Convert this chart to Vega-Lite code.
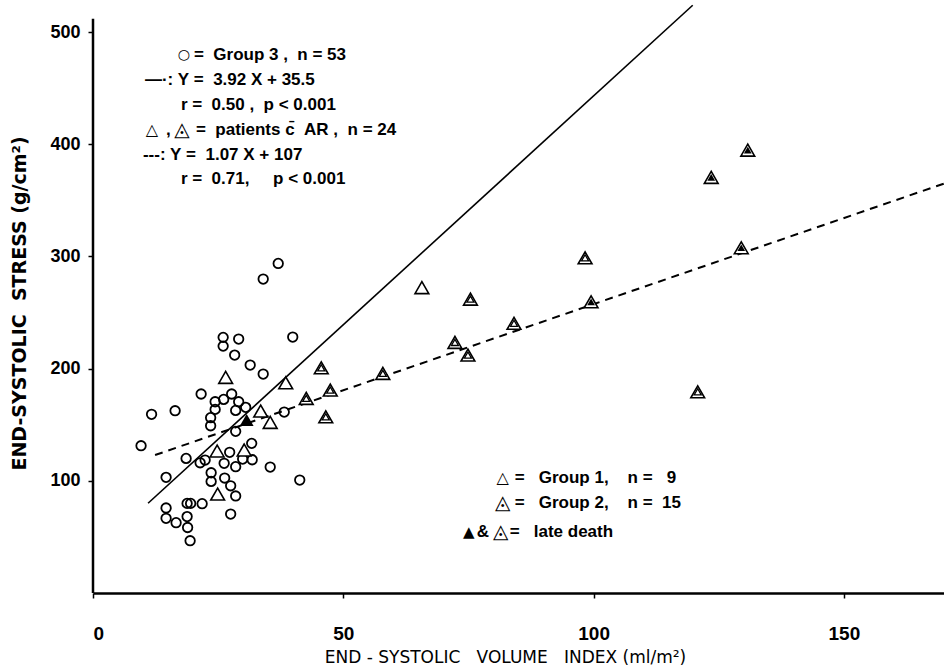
{
  "$schema": "https://vega.github.io/schema/vega-lite/v6.json",
  "width": 851,
  "height": 590,
  "autosize": {"type": "none"},
  "padding": {"left": 93, "top": 3, "right": 0, "bottom": 75},
  "background": "white",
  "config": {"view": {"stroke": null}},
  "datasets": {
    "pts": [
      {"kind": "c", "x": 37.0, "y": 293.8}, {"kind": "c", "x": 34.0, "y": 279.9}, {"kind": "c", "x": 26.0, "y": 227.9},
      {"kind": "c", "x": 29.1, "y": 226.4}, {"kind": "c", "x": 26.0, "y": 220.1}, {"kind": "c", "x": 39.9, "y": 228.2},
      {"kind": "c", "x": 28.3, "y": 212.1}, {"kind": "c", "x": 31.4, "y": 203.2}, {"kind": "c", "x": 34.0, "y": 195.2},
      {"kind": "c", "x": 21.6, "y": 177.4}, {"kind": "c", "x": 11.7, "y": 159.3}, {"kind": "c", "x": 16.4, "y": 162.5},
      {"kind": "c", "x": 24.4, "y": 170.5}, {"kind": "c", "x": 26.1, "y": 172.6}, {"kind": "c", "x": 27.7, "y": 177.4},
      {"kind": "c", "x": 29.1, "y": 170.5}, {"kind": "c", "x": 24.4, "y": 163.7}, {"kind": "c", "x": 28.5, "y": 162.8},
      {"kind": "c", "x": 30.5, "y": 165.5}, {"kind": "c", "x": 23.5, "y": 156.3}, {"kind": "c", "x": 23.5, "y": 149.1},
      {"kind": "c", "x": 38.2, "y": 161.3}, {"kind": "c", "x": 28.5, "y": 144.1}, {"kind": "c", "x": 9.6, "y": 131.3},
      {"kind": "c", "x": 31.7, "y": 133.4}, {"kind": "c", "x": 27.3, "y": 125.4}, {"kind": "c", "x": 18.6, "y": 120.0},
      {"kind": "c", "x": 21.4, "y": 116.1}, {"kind": "c", "x": 22.4, "y": 118.5}, {"kind": "c", "x": 26.2, "y": 115.6},
      {"kind": "c", "x": 29.9, "y": 119.4}, {"kind": "c", "x": 31.8, "y": 118.8}, {"kind": "c", "x": 28.5, "y": 112.6},
      {"kind": "c", "x": 35.4, "y": 112.3}, {"kind": "c", "x": 14.6, "y": 103.1}, {"kind": "c", "x": 23.6, "y": 107.2},
      {"kind": "c", "x": 23.6, "y": 99.5}, {"kind": "c", "x": 26.3, "y": 102.5}, {"kind": "c", "x": 27.5, "y": 95.6},
      {"kind": "c", "x": 28.5, "y": 86.5}, {"kind": "c", "x": 41.3, "y": 100.7}, {"kind": "c", "x": 14.6, "y": 75.8},
      {"kind": "c", "x": 18.8, "y": 79.9}, {"kind": "c", "x": 19.5, "y": 79.9}, {"kind": "c", "x": 21.8, "y": 79.6},
      {"kind": "c", "x": 14.6, "y": 66.6}, {"kind": "c", "x": 16.6, "y": 62.7}, {"kind": "c", "x": 18.8, "y": 68.1},
      {"kind": "c", "x": 27.5, "y": 70.4}, {"kind": "c", "x": 18.9, "y": 58.4}, {"kind": "c", "x": 19.4, "y": 46.6},
      {"kind": "g1", "x": 26.5, "y": 192.2}, {"kind": "g1", "x": 38.5, "y": 187.4}, {"kind": "g1", "x": 33.5, "y": 162.2},
      {"kind": "g1", "x": 35.4, "y": 152.1}, {"kind": "g1", "x": 24.8, "y": 126.6}, {"kind": "g1", "x": 30.2, "y": 127.5},
      {"kind": "g1", "x": 24.9, "y": 88.2}, {"kind": "g1", "x": 65.7, "y": 272.2},
      {"kind": "g1d", "x": 30.7, "y": 154.2},
      {"kind": "g2", "x": 45.6, "y": 200.8}, {"kind": "g2", "x": 42.6, "y": 173.5}, {"kind": "g2", "x": 47.4, "y": 180.9},
      {"kind": "g2", "x": 46.5, "y": 157.1}, {"kind": "g2", "x": 57.9, "y": 195.8}, {"kind": "g2", "x": 75.4, "y": 262.0},
      {"kind": "g2", "x": 72.3, "y": 223.4}, {"kind": "g2", "x": 74.9, "y": 212.1}, {"kind": "g2", "x": 84.1, "y": 240.4},
      {"kind": "g2", "x": 98.3, "y": 298.8}, {"kind": "g2", "x": 120.8, "y": 179.4},
      {"kind": "g2d", "x": 99.5, "y": 259.6}, {"kind": "g2d", "x": 123.5, "y": 370.5}, {"kind": "g2d", "x": 129.5, "y": 307.8},
      {"kind": "g2d", "x": 130.8, "y": 394.8}
    ],
    "labels": [
      {"tx": 20.16, "ty": 479.5, "label": "=\u00a0\u00a0Group 3 ,\u00a0\u00a0n = 53"},
      {"tx": 10.38, "ty": 457.2, "label": "—·: Y\u00a0=\u00a0\u00a03.92 X + 35.5"},
      {"tx": 17.56, "ty": 434.9, "label": "r\u00a0=\u00a0\u00a00.50 ,\u00a0\u00a0p < 0.001"},
      {"tx": 14.57, "ty": 412.7, "label": ","},
      {"tx": 20.56, "ty": 412.7, "label": "=\u00a0\u00a0patients c̄\u00a0\u00a0AR ,\u00a0\u00a0n = 24"},
      {"tx": 9.98, "ty": 390.4, "label": "---: Y\u00a0=\u00a0\u00a01.07 X + 107"},
      {"tx": 17.56, "ty": 369.0, "label": "r\u00a0=\u00a0\u00a00.71,\u00a0\u00a0\u00a0\u00a0\u00a0p < 0.001"},
      {"tx": 84.23, "ty": 102.5, "label": "=\u00a0\u00a0\u00a0Group 1,\u00a0\u00a0\u00a0\u00a0n =\u00a0\u00a0\u00a09"},
      {"tx": 84.23, "ty": 80.2, "label": "=\u00a0\u00a0\u00a0Group 2,\u00a0\u00a0\u00a0\u00a0n =\u00a0\u00a015"},
      {"tx": 76.65, "ty": 54.4, "label": "&"},
      {"tx": 83.23, "ty": 54.4, "label": "=\u00a0\u00a0\u00a0late death"}
    ],
    "syms": [
      {"tx": 18.16, "ty": 479.5, "sym": "○", "sz": 14},
      {"tx": 11.78, "ty": 412.7, "sym": "△", "sz": 16},
      {"tx": 17.76, "ty": 412.7, "sym": "◬", "sz": 20},
      {"tx": 81.84, "ty": 102.5, "sym": "△", "sz": 16},
      {"tx": 81.84, "ty": 80.2, "sym": "◬", "sz": 20},
      {"tx": 75.05, "ty": 54.4, "sym": "▲", "sz": 15},
      {"tx": 81.44, "ty": 54.4, "sym": "◬", "sz": 20}
    ]
  },
  "layer": [
    {
      "data": {"values": [{"x": 0, "y": 0, "y2": 512}]},
      "mark": {"type": "rule", "color": "black", "strokeWidth": 2.5},
      "encoding": {
        "x": {"field": "x", "type": "quantitative",
          "scale": {"domain": [0, 170], "nice": false, "zero": false},
          "axis": {"values": [0, 50, 100, 150], "grid": false, "domainColor": "black", "domainWidth": 2.5,
            "tickColor": "black", "tickSize": 5, "tickWidth": 1.5, "labelPadding": 26,
            "labelFont": "Liberation Sans", "labelFontWeight": "bold", "labelFontSize": 19, "labelColor": "black",
            "title": "END - SYSTOLIC\u00a0\u00a0\u00a0VOLUME\u00a0\u00a0\u00a0INDEX (ml/m²)", "titleFont": "DejaVu Sans", "titleFontWeight": "normal",
            "titleFontSize": 17, "titleColor": "black", "titleY": 64, "titleBaseline": "middle", "titleX": 412}},
        "y": {"field": "y", "type": "quantitative",
          "scale": {"domain": [0, 526], "nice": false, "zero": false},
          "axis": {"values": [100, 200, 300, 400, 500], "grid": false, "domain": false,
            "tickColor": "black", "tickSize": 5, "tickWidth": 1.5, "labelPadding": 8,
            "labelFont": "Liberation Sans", "labelFontWeight": "bold", "labelFontSize": 18, "labelColor": "black",
            "title": "END-SYSTOLIC\u00a0\u00a0STRESS\u00a0(g/cm²)", "titleFont": "DejaVu Sans", "titleFontWeight": "bold",
            "titleFontSize": 19, "titleColor": "black", "titleX": -74, "titleY": 300, "titleAngle": -90,
            "titleAlign": "center", "titleBaseline": "middle"}},
        "y2": {"field": "y2"}
      }
    },
    {
      "data": {"values": [{"x": 11, "y": 80}, {"x": 119.8, "y": 524}]},
      "mark": {"type": "line", "color": "black", "strokeWidth": 1.6, "clip": false},
      "encoding": {"x": {"field": "x", "type": "quantitative"}, "y": {"field": "y", "type": "quantitative"}}
    },
    {
      "data": {"values": [{"x": 12.4, "y": 123}, {"x": 170, "y": 365}]},
      "mark": {"type": "line", "color": "black", "strokeWidth": 2, "strokeDash": [8, 6]},
      "encoding": {"x": {"field": "x", "type": "quantitative"}, "y": {"field": "y", "type": "quantitative"}}
    },
    {
      "data": {"name": "pts"},
      "transform": [{"filter": "datum.kind == 'c'"}],
      "mark": {"type": "point", "shape": "circle", "filled": false, "color": "black", "strokeWidth": 1.8, "size": 90, "opacity": 1},
      "encoding": {"x": {"field": "x", "type": "quantitative"}, "y": {"field": "y", "type": "quantitative"}}
    },
    {
      "data": {"name": "pts"},
      "transform": [{"filter": "datum.kind == 'g1' || datum.kind == 'g2' || datum.kind == 'g2d'"}],
      "mark": {"type": "point", "shape": "triangle-up", "filled": true, "fill": "white", "stroke": "black", "strokeWidth": 1.6, "size": 190, "opacity": 1},
      "encoding": {"x": {"field": "x", "type": "quantitative"}, "y": {"field": "y", "type": "quantitative"}}
    },
    {
      "data": {"name": "pts"},
      "transform": [{"filter": "datum.kind == 'g1d'"}],
      "mark": {"type": "point", "shape": "triangle-up", "filled": true, "color": "black", "size": 190, "opacity": 1},
      "encoding": {"x": {"field": "x", "type": "quantitative"}, "y": {"field": "y", "type": "quantitative"}}
    },
    {
      "data": {"name": "pts"},
      "transform": [{"filter": "datum.kind == 'g2'"}],
      "mark": {"type": "point", "shape": "triangle-up", "filled": false, "color": "black", "strokeWidth": 1.3, "size": 50, "opacity": 1},
      "encoding": {"x": {"field": "x", "type": "quantitative"}, "y": {"field": "y", "type": "quantitative"}}
    },
    {
      "data": {"name": "pts"},
      "transform": [{"filter": "datum.kind == 'g2d'"}],
      "mark": {"type": "point", "shape": "triangle-up", "filled": true, "color": "black", "size": 60, "opacity": 1},
      "encoding": {"x": {"field": "x", "type": "quantitative"}, "y": {"field": "y", "type": "quantitative"}}
    },
    {
      "data": {"name": "labels"},
      "mark": {"type": "text", "align": "left", "baseline": "middle", "font": "Liberation Sans", "fontWeight": "bold", "fontSize": 17, "color": "black"},
      "encoding": {"x": {"field": "tx", "type": "quantitative"}, "y": {"field": "ty", "type": "quantitative"}, "text": {"field": "label"}}
    },
    {
      "data": {"name": "syms"},
      "mark": {"type": "text", "align": "center", "baseline": "middle", "font": "DejaVu Sans", "color": "black"},
      "encoding": {"x": {"field": "tx", "type": "quantitative"}, "y": {"field": "ty", "type": "quantitative"},
        "text": {"field": "sym"}, "size": {"field": "sz", "type": "quantitative", "scale": null}}
    }
  ]
}
